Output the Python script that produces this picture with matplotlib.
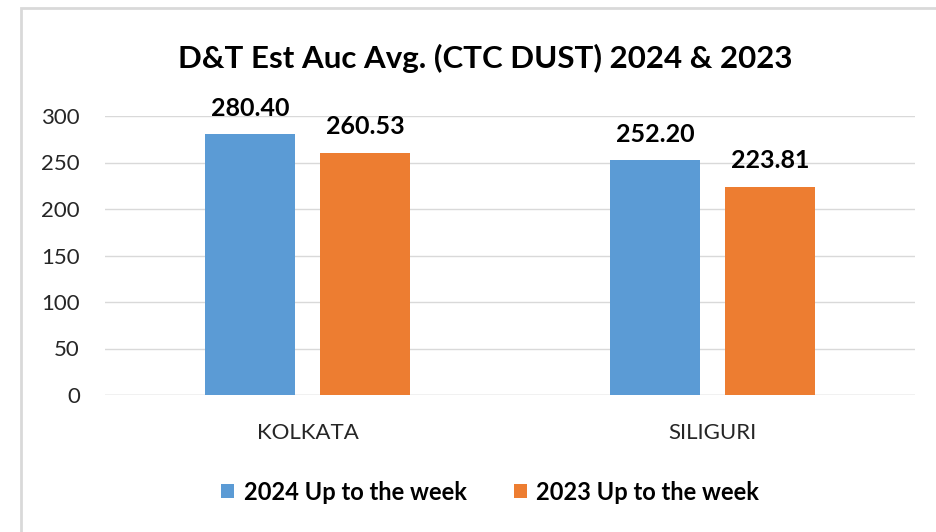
import matplotlib
matplotlib.use("Agg")
import matplotlib.pyplot as plt
import numpy as np
from matplotlib.patches import Rectangle

categories = ["KOLKATA", "SILIGURI"]
series_names = ["2024 Up to the week", "2023 Up to the week"]
values_2024 = [280.40, 252.20]
values_2023 = [260.53, 223.81]
yticks = [0, 50, 100, 150, 200, 250, 300]
title = "D&T Est Auc Avg. (CTC DUST) 2024 & 2023"

colors = ["#5B9BD5", "#ED7D31"]
plt.rcParams['font.family'] = ['Lato', 'DejaVu Sans']

fig = plt.figure(figsize=(9.37, 5.32), dpi=100)
ax = fig.add_axes([105/937, 1-395/532, 810/937, 279/532])

x = np.arange(len(categories))
w = 0.222
off = 0.142
b1 = ax.bar(x - off, values_2024, w, color=colors[0], label=series_names[0], zorder=3)
b2 = ax.bar(x + off, values_2023, w, color=colors[1], label=series_names[1], zorder=3)

for bars, vals in ((b1, values_2024), (b2, values_2023)):
    for r, v in zip(bars, vals):
        ax.annotate(f"{v:.2f}", (r.get_x() + r.get_width()/2, v), xytext=(0, 10.5),
                    textcoords="offset points", ha="center", va="bottom",
                    fontsize=18, fontweight="bold", color="#000000")

ax.set_xlim(-0.5, 1.5)
ax.set_ylim(0, 300)
ax.set_yticks(yticks)
ax.set_yticklabels([str(t) for t in yticks], fontsize=16, color="#262626")
ax.set_xticks(x)
ax.set_xticklabels(categories, fontsize=16, color="#262626")
ax.tick_params(axis='both', length=0)
ax.tick_params(axis='y', pad=18)
ax.tick_params(axis='x', pad=20)
ax.grid(axis='y', color="#D9D9D9", linewidth=1, zorder=0)
for s in ax.spines.values():
    s.set_visible(False)
ax.axhline(0, color="#D9D9D9", linewidth=1, zorder=2)

fig.text(485/937, 1-58/532, title, ha="center", va="center", fontsize=22.5, fontweight="bold", color="#000000")

leg = fig.legend(handles=[b1, b2], labels=series_names, loc="center", bbox_to_anchor=(490/937, 1-492/532),
                 ncol=2, frameon=False, prop={'weight': 'bold', 'size': 17},
                 handlelength=0.55, handleheight=0.55, handletextpad=0.4, columnspacing=2.0)

fig.patches.append(Rectangle((21/937, -0.1), 1.2, 1-8/532 + 0.1, transform=fig.transFigure,
                             fill=False, edgecolor="#D9D9D9", linewidth=2))

fig.savefig("out.png", dpi=100, facecolor="white")
